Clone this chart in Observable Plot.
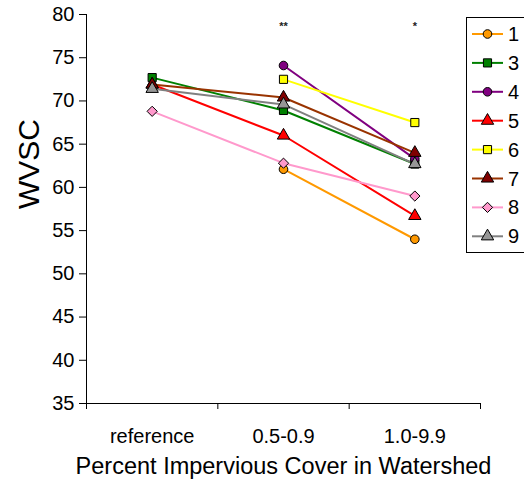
<!DOCTYPE html>
<html>
<head>
<meta charset="utf-8">
<script src="https://cdn.jsdelivr.net/npm/d3@7"></script>
<script src="https://cdn.jsdelivr.net/npm/@observablehq/plot@0.6"></script>
<style>
  html, body { margin: 0; padding: 0; background: #fff; }
  #wrap { position: relative; width: 524px; height: 490px; overflow: hidden; font-family: "Liberation Sans", Arial, sans-serif; }
  #legend { position: absolute; left: 0; top: 0; }
</style>
</head>
<body>
<div id="wrap"></div>
<script>
const categories = ["reference", "0.5-0.9", "1.0-9.9"];
const seriesNames = ["1", "3", "4", "5", "6", "7", "8", "9"];
const values = {
  "1": [null, 62.1, 54.0],
  "3": [72.7, 68.9, 62.7],
  "4": [null, 74.1, 63.3],
  "5": [71.9, 66.0, 56.7],
  "6": [null, 72.5, 67.5],
  "7": [71.9, 70.4, 64.0],
  "8": [68.8, 62.8, 59.0],
  "9": [71.4, 69.6, 62.7]
};
const lineColors = {"1": "#FF9900", "3": "#008000", "4": "#800080", "5": "#FF0000", "6": "#FFFF00", "7": "#993300", "8": "#FF99CC", "9": "#808080"};
const fillColors = {"1": "#FF9900", "3": "#008000", "4": "#800080", "5": "#FF0000", "6": "#FFFF00", "7": "#800000", "8": "#FF99CC", "9": "#969696"};
const symbols = {"1": "circle", "3": "square", "4": "circle", "5": "triangle", "6": "square", "7": "triangle", "8": "diamond2", "9": "triangle"};
const significance = ["", "**", "*"];
const yTicks = [35, 40, 45, 50, 55, 60, 65, 70, 75, 80];

const rows = [];
for (const s of seriesNames) {
  values[s].forEach((v, i) => { if (v != null) rows.push({series: s, cat: i + 0.5, value: v}); });
}
const sigRows = categories.map((c, i) => ({cat: i + 0.5, label: significance[i]})).filter(d => d.label);

const font = "Liberation Sans, Arial, sans-serif";
const markerR = s => symbols[s] === "circle" ? 4.3 : 4.6;
const marks = [
  Plot.ruleX([0], {stroke: "#000", strokeWidth: 1}),
  Plot.ruleY([35], {stroke: "#000", strokeWidth: 1}),
  Plot.axisY({ticks: yTicks, tickSize: 7, tickPadding: 5, fontSize: 20, label: null, stroke: "#000"}),
  Plot.axisX({ticks: d3.range(categories.length + 1), tickSize: 6, tickFormat: () => "", label: null, stroke: "#000"}),
  Plot.axisX({ticks: categories.map((c, i) => i + 0.5), tickSize: 0, tickPadding: 25, tickFormat: v => categories[Math.round(v - 0.5)], fontSize: 20, label: null}),
  Plot.text(["Percent Impervious Cover in Watershed"], {frameAnchor: "bottom", dy: 70, fontSize: 23.5, fill: "#000"}),
  Plot.text(["WVSC"], {frameAnchor: "left", dx: -57, rotate: -90, fontSize: 30, fill: "#000"}),
  Plot.text(sigRows, {x: "cat", text: "label", frameAnchor: "top", dy: 8, fontSize: 11, fontWeight: "bold", fill: "#222"})
];
for (const s of seriesNames) {
  const data = rows.filter(d => d.series === s);
  marks.push(Plot.line(data, {x: "cat", y: "value", stroke: lineColors[s], strokeWidth: 2}));
}
for (const s of seriesNames) {
  const data = rows.filter(d => d.series === s);
  marks.push(Plot.dot(data, {x: "cat", y: "value", symbol: symbols[s], fill: fillColors[s], stroke: "#000", strokeWidth: 1, r: markerR(s)}));
}

const chart = Plot.plot({
  width: 524,
  height: 490,
  marginLeft: 86,
  marginRight: 44,
  marginTop: 14,
  marginBottom: 87,
  style: {fontFamily: font, background: "#fff", color: "#000"},
  x: {type: "linear", domain: [0, categories.length], axis: null},
  y: {domain: [35, 80], axis: null},
  marks
});
const wrap = document.getElementById("wrap");
wrap.appendChild(chart);

// Legend overlay
const legW = 70, rowH = 28.9;
const leg = d3.select(wrap).append("svg").attr("id", "legend")
  .attr("width", 524).attr("height", 490)
  .style("position", "absolute").style("left", "0px").style("top", "0px");
const g = leg.append("g").attr("transform", "translate(466,17)");
g.append("rect").attr("x", 0.5).attr("y", 0.5).attr("width", legW).attr("height", 235)
  .attr("fill", "#fff").attr("stroke", "#000").attr("stroke-width", 1);
seriesNames.forEach((s, i) => {
  const y = 17 + i * rowH;
  g.append("line").attr("x1", 6).attr("x2", 37).attr("y1", y).attr("y2", y)
    .attr("stroke", lineColors[s]).attr("stroke-width", 2);
  const sym = {circle: d3.symbolCircle, square: d3.symbolSquare, triangle: d3.symbolTriangle, diamond2: d3.symbolDiamond2}[symbols[s]];
  const r = markerR(s);
  g.append("path").attr("d", d3.symbol(sym, Math.PI * r * r)())
    .attr("transform", `translate(21.5,${y})`)
    .attr("fill", fillColors[s]).attr("stroke", "#000").attr("stroke-width", 1);
  g.append("text").attr("x", 42).attr("y", y).attr("dy", "0.35em")
    .attr("font-family", font).attr("font-size", 20).attr("fill", "#000").text(s);
});
</script>
</body>
</html>
